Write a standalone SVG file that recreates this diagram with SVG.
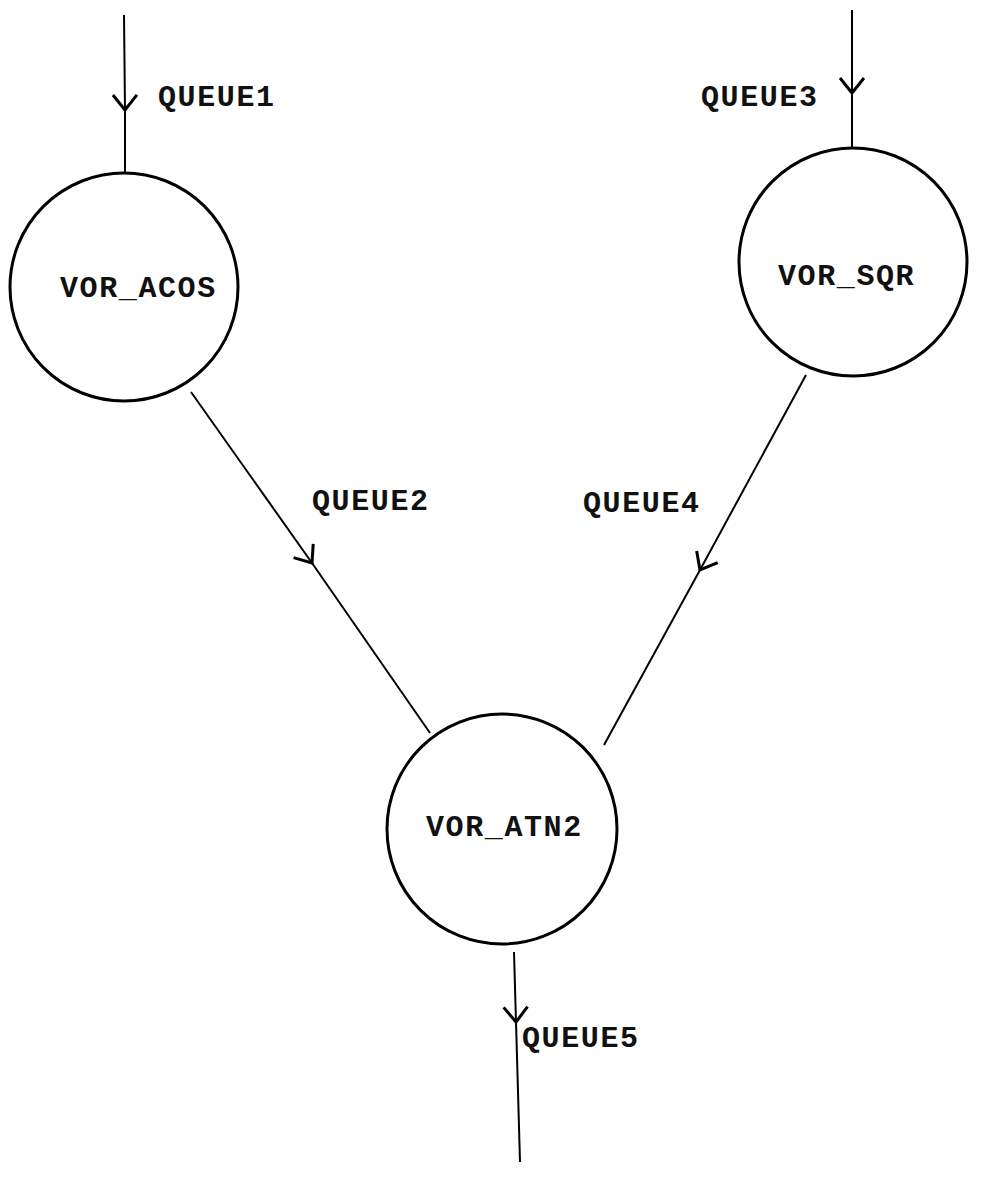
<svg xmlns="http://www.w3.org/2000/svg" width="982" height="1185" viewBox="0 0 982 1185">
<style>
.node{fill:none;stroke:#000;stroke-width:3}
.edge{fill:none;stroke:#000;stroke-width:2}
.lbl{font-family:"Liberation Mono","DejaVu Sans Mono",monospace;font-size:30px;letter-spacing:1.6px;font-weight:bold;fill:#111}
</style>
<defs>
<marker id="chev" markerUnits="userSpaceOnUse" markerWidth="36" markerHeight="36" viewBox="-18 -18 36 36" refX="0" refY="0" orient="auto">
<path d="M-15,-12 L0,0 L-15,12" fill="none" stroke="#000" stroke-width="3"/>
</marker>
</defs>
<rect width="982" height="1185" fill="#fff"/>
<g id="connectors">
<path class="edge" d="M124,15 L125,110 L125,172" marker-mid="url(#chev)"/>
<text class="lbl" x="158" y="106">QUEUE1</text>
<path class="edge" d="M852,10 L852,93 L852,147" marker-mid="url(#chev)"/>
<text class="lbl" x="701" y="106">QUEUE3</text>
<path class="edge" d="M191,392 L312,563 L430,733" marker-mid="url(#chev)"/>
<text class="lbl" x="312" y="510">QUEUE2</text>
<path class="edge" d="M806,375 L700,570 L604,745" marker-mid="url(#chev)"/>
<text class="lbl" x="583" y="512">QUEUE4</text>
<path class="edge" d="M514,952 L516,1022 L520,1162" marker-mid="url(#chev)"/>
<text class="lbl" x="522" y="1047">QUEUE5</text>
</g>
<g id="vor_acos">
<circle class="node" cx="124" cy="287" r="114"/>
<text class="lbl" x="60" y="297">VOR_ACOS</text>
</g>
<g id="vor_sqr">
<circle class="node" cx="853" cy="262" r="114"/>
<text class="lbl" x="778" y="285">VOR_SQR</text>
</g>
<g id="vor_atn2">
<circle class="node" cx="502" cy="829" r="115"/>
<text class="lbl" x="426" y="836">VOR_ATN2</text>
</g>
</svg>
